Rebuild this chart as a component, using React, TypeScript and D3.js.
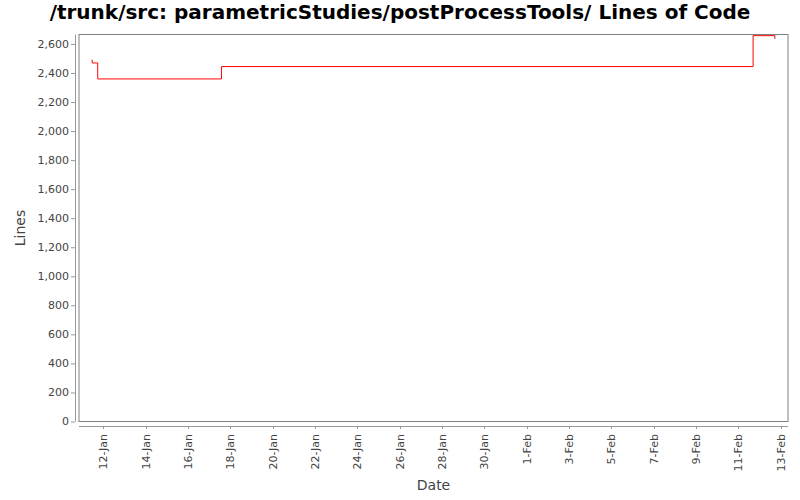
import { useEffect, useRef } from "react";
import * as d3 from "d3";

const dates = [
  "2009-01-11T10:40:00Z",
  "2009-01-11T11:30:00Z",
  "2009-01-11T17:40:00Z",
  "2009-01-17T14:00:00Z",
  "2009-02-11T16:50:00Z",
  "2009-02-12T17:30:00Z",
];
const lines = [2488, 2469, 2359, 2444, 2657, 2635];
const yTicks = [0, 200, 400, 600, 800, 1000, 1200, 1400, 1600, 1800, 2000, 2200, 2400, 2600];
const xTickDates = [
  "2009-01-12", "2009-01-14", "2009-01-16", "2009-01-18", "2009-01-20", "2009-01-22",
  "2009-01-24", "2009-01-26", "2009-01-28", "2009-01-30", "2009-02-01", "2009-02-03",
  "2009-02-05", "2009-02-07", "2009-02-09", "2009-02-11", "2009-02-13",
];

const W = 800;
const H = 500;
const left = 79;
const right = 788;
const top = 34.5;
const bottom = 421.5;
const font = "'DejaVu Sans', sans-serif";

export default function App() {
  const ref = useRef<SVGSVGElement | null>(null);

  useEffect(() => {
    const svg = d3.select(ref.current!);
    svg.selectAll("*").remove();

    const x = d3
      .scaleUtc()
      .domain([new Date("2009-01-10T20:27:00Z"), new Date("2009-02-13T08:25:00Z")])
      .range([left, right]);
    const y = d3.scaleLinear().domain([0, 2665]).range([bottom, top]);

    svg.append("rect").attr("width", W).attr("height", H).attr("fill", "#fff");

    // title
    svg
      .append("text")
      .attr("x", 400)
      .attr("y", 19)
      .attr("text-anchor", "middle")
      .style("font", `bold 20px ${font}`)
      .attr("fill", "#000")
      .text("/trunk/src: parametricStudies/postProcessTools/ Lines of Code");

    // plot area
    svg
      .append("rect")
      .attr("x", left)
      .attr("y", top)
      .attr("width", right - left)
      .attr("height", bottom - top)
      .attr("fill", "#fff")
      .attr("stroke", "#808080")
      .attr("stroke-width", 1);

    // y axis
    const yAxis = svg.append("g").attr("transform", "translate(75,0)");
    yAxis
      .append("line")
      .attr("x1", 0.5)
      .attr("x2", 0.5)
      .attr("y1", top)
      .attr("y2", bottom)
      .attr("stroke", "#999");
    const yt = yAxis.selectAll("g.t").data(yTicks).join("g").attr("class", "t");
    yt.append("line")
      .attr("x1", -4)
      .attr("x2", 0)
      .attr("y1", (d) => y(d) + 0.5)
      .attr("y2", (d) => y(d) + 0.5)
      .attr("stroke", "#999");
    yt.append("text")
      .attr("x", -6)
      .attr("y", (d) => y(d))
      .attr("dy", "0.35em")
      .attr("text-anchor", "end")
      .style("font", `11px ${font}`)
      .attr("fill", "#444")
      .text((d) => d3.format(",")(d));

    // x axis
    const xAxis = svg.append("g").attr("transform", "translate(0,426)");
    xAxis
      .append("line")
      .attr("x1", left)
      .attr("x2", right)
      .attr("y1", 0.5)
      .attr("y2", 0.5)
      .attr("stroke", "#999");
    const fmt = d3.utcFormat("%-d-%b");
    const xt = xAxis
      .selectAll("g.t")
      .data(xTickDates.map((s) => new Date(s + "T00:00:00Z")))
      .join("g")
      .attr("class", "t")
      .attr("transform", (d) => `translate(${Math.round(x(d)) + 0.5},0)`);
    xt.append("line").attr("y1", 0).attr("y2", 3).attr("stroke", "#999");
    xt.append("text")
      .attr("transform", "translate(0,8) rotate(-90)")
      .attr("dy", "0.35em")
      .attr("text-anchor", "end")
      .style("font", `11px ${font}`)
      .attr("fill", "#444")
      .text((d) => fmt(d));

    // axis labels
    svg
      .append("text")
      .attr("x", (left + right) / 2)
      .attr("y", 490)
      .attr("text-anchor", "middle")
      .style("font", `14px ${font}`)
      .attr("fill", "#444")
      .text("Date");
    svg
      .append("text")
      .attr("transform", `translate(25,${(top + bottom) / 2}) rotate(-90)`)
      .attr("text-anchor", "middle")
      .style("font", `14px ${font}`)
      .attr("fill", "#444")
      .text("Lines");

    // step line
    const pts = dates.map((s, i) => [new Date(s), lines[i]] as [Date, number]);
    const line = d3
      .line<[Date, number]>()
      .x((d) => x(d[0]))
      .y((d) => y(d[1]))
      .curve(d3.curveStepAfter);
    svg
      .append("path")
      .datum(pts)
      .attr("d", line)
      .attr("fill", "none")
      .attr("stroke", "#ff0000")
      .attr("stroke-width", 1);
  }, []);

  return (
    <svg
      ref={ref}
      width={W}
      height={H}
      style={{ position: "absolute", left: 0, top: 0, display: "block" }}
    />
  );
}
